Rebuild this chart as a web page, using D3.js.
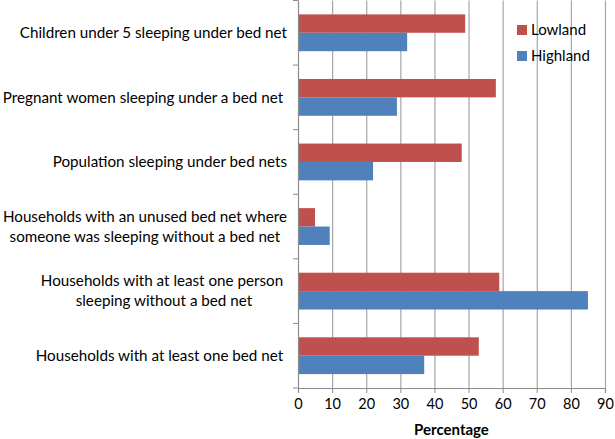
<!DOCTYPE html>
<html>
<head>
<meta charset="utf-8">
<script src="https://cdn.jsdelivr.net/npm/d3@7"></script>
<style>
  body { margin: 0; background: #fff; }
  text { font-family: Lato, "Open Sans", sans-serif; fill: #000; white-space: pre; }
</style>
</head>
<body>
<svg width="615" height="439"></svg>
<script>
// data
let categories = [
  "Children under 5 sleeping under bed net",
  "Pregnant women sleeping under a bed net ",
  "Population sleeping under bed nets",
  "Households with an unused bed net where|someone was sleeping without a bed net",
  "Households with at least one person |sleeping without a bed net",
  "Households with at least one bed net "
];
let seriesNames = ["Lowland", "Highland"];
let lowland = [49, 58, 48, 5, 59, 53];
let highland = [32, 29, 22, 9.3, 85, 37];
let xTicks = [0, 10, 20, 30, 40, 50, 60, 70, 80, 90];

let colors = { Lowland: "#C0504D", Highland: "#4F81BD" };

let svg = d3.select("svg");
let margin = { top: 0.5, right: 10, bottom: 51, left: 298 };
let width = 615, height = 439;

let x = d3.scaleLinear().domain([0, 90]).range([margin.left, width - margin.right]);
let y = d3.scaleBand().domain(d3.range(categories.length))
  .range([margin.top, height - margin.bottom])
  .paddingInner(0.43).paddingOuter(0.215);
let ySub = d3.scaleBand().domain(seriesNames).range([0, y.bandwidth()]);

// gridlines
svg.append("g")
  .selectAll("line")
  .data(xTicks.slice(1))
  .enter().append("line")
  .attr("x1", d => x(d) + 0.5).attr("x2", d => x(d) + 0.5)
  .attr("y1", margin.top).attr("y2", height - margin.bottom)
  .attr("stroke", "#a6a6a6").attr("stroke-width", 1.2);

// bars
let rows = categories.map((c, i) => ({ i: i, Lowland: lowland[i], Highland: highland[i] }));
let group = svg.append("g").selectAll("g")
  .data(rows)
  .enter().append("g")
  .attr("transform", d => "translate(0," + y(d.i) + ")");
group.selectAll("rect")
  .data(d => seriesNames.map(s => ({ s: s, v: d[s] })))
  .enter().append("rect")
  .attr("x", x(0))
  .attr("y", d => ySub(d.s))
  .attr("width", d => x(d.v) - x(0))
  .attr("height", ySub.bandwidth())
  .attr("fill", d => colors[d.s]);

// x axis
let step = (height - margin.bottom - margin.top) / categories.length;
let xAxis = d3.axisBottom(x).tickValues(xTicks).tickSize(5).tickPadding(6);
let gx = svg.append("g")
  .attr("transform", "translate(0," + (height - margin.bottom) + ")")
  .call(xAxis);
gx.select(".domain").attr("stroke", "#8c8c8c").attr("stroke-width", 1.2);
gx.selectAll(".tick line").attr("stroke", "#8c8c8c");
gx.selectAll(".tick text").style("font-size", "14.5px").style("font-family", "Lato, sans-serif").attr("fill", "#000");

// y axis line and category boundary ticks
svg.append("line")
  .attr("x1", x(0) + 0.5).attr("x2", x(0) + 0.5)
  .attr("y1", margin.top).attr("y2", height - margin.bottom)
  .attr("stroke", "#8c8c8c").attr("stroke-width", 1.2);
svg.append("g").selectAll("line")
  .data(d3.range(categories.length + 1))
  .enter().append("line")
  .attr("x1", x(0) - 5).attr("x2", x(0))
  .attr("y1", d => margin.top + d * step).attr("y2", d => margin.top + d * step)
  .attr("stroke", "#8c8c8c");

// category labels (multi-line labels centred as a block, block right aligned)
let labelRight = 287;
categories.forEach((c, i) => {
  let lines = c.split("|");
  let cy = y(i) + y.bandwidth() / 2;
  let lh = 20;
  let t = svg.append("text")
    .style("font-size", "15.2px")
    .attr("text-anchor", lines.length > 1 ? "middle" : "end");
  let spans = lines.map((ln, k) => t.append("tspan")
    .attr("y", cy + (k - (lines.length - 1) / 2) * lh)
    .attr("dy", "0.35em")
    .text(ln));
  if (lines.length > 1) {
    let maxW = d3.max(spans, s => s.node().getComputedTextLength());
    spans.forEach(s => s.attr("x", labelRight - maxW / 2));
  } else {
    spans[0].attr("x", labelRight);
  }
});

// axis title
svg.append("text")
  .attr("x", (x(0) + x(90)) / 2)
  .attr("y", 430)
  .attr("dy", "0.35em")
  .attr("text-anchor", "middle")
  .style("font-size", "15px")
  .style("font-weight", "bold")
  .text("Percentage");

// legend
let legend = svg.append("g").attr("transform", "translate(517,25)");
seriesNames.forEach((s, i) => {
  legend.append("rect")
    .attr("x", 0).attr("y", i * 26)
    .attr("width", 10).attr("height", 10)
    .attr("fill", colors[s]);
  legend.append("text")
    .attr("x", 14).attr("y", i * 26 + 5)
    .attr("dy", "0.35em")
    .style("font-size", "15px")
    .text(s);
});
</script>
</body>
</html>
